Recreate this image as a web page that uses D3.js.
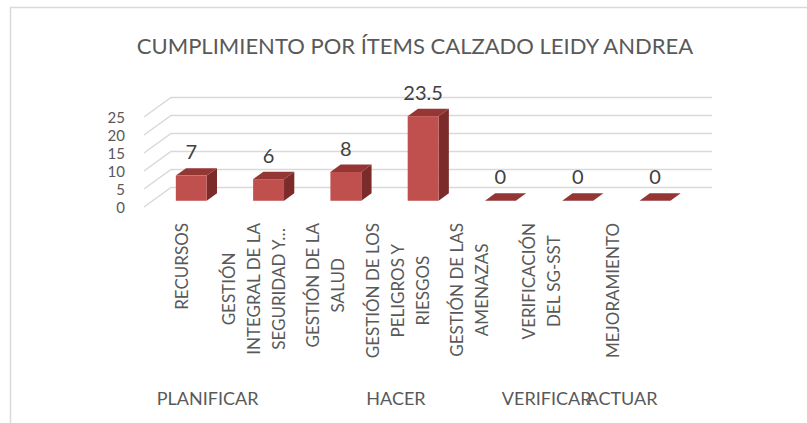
<!DOCTYPE html>
<html>
<head>
<meta charset="utf-8">
<script src="https://cdn.jsdelivr.net/npm/d3@7"></script>
<style>
  html, body { margin: 0; padding: 0; background: #fff; }
  text { font-family: Lato, "Open Sans", sans-serif; }
</style>
</head>
<body>
<div id="chart"></div>
<script>
// cumplimiento por items - 3D column look

const title = "CUMPLIMIENTO POR ÍTEMS CALZADO LEIDY ANDREA";
const items = [
  ["RECURSOS"],
  ["GESTIÓN", "INTEGRAL DE LA", "SEGURIDAD Y…"],
  ["GESTIÓN DE LA", "SALUD"],
  ["GESTIÓN DE LOS", "PELIGROS Y", "RIESGOS"],
  ["GESTIÓN DE LAS", "AMENAZAS"],
  ["VERIFICACIÓN", "DEL SG-SST"],
  ["MEJORAMIENTO"]
];
const values = [7, 6, 8, 23.5, 0, 0, 0];
const groups = ["PLANIFICAR", "HACER", "VERIFICAR", "ACTUAR"];
const groupSpans = [[0, 1], [2, 4], [5, 5], [6, 6]];
const yTicks = [0, 5, 10, 15, 20, 25];

const W = 807, H = 423;
const depthX = 27, depthY = -19.5;   // floor depth (oblique)
const barD0 = 0.32, barD1 = 0.7;     // bar depth, front/back as share of floor

const svg = d3.select("#chart").append("svg")
  .attr("width", W).attr("height", H);

// chart frame (runs off the window on right / bottom)
svg.append("rect")
  .attr("x", 10.5).attr("y", 7.5)
  .attr("width", W + 20).attr("height", H + 20)
  .attr("fill", "#fff")
  .attr("stroke", "#d9d9d9").attr("stroke-width", 1.5);

svg.append("text")
  .attr("x", 415).attr("y", 54)
  .attr("text-anchor", "middle")
  .attr("font-size", "22px")
  .attr("fill", "#595959")
  .text(title);

const idx = items.map((d, i) => i);

const x = d3.scaleBand().domain(idx).range([144, 685])
  .paddingInner(0.6).paddingOuter(0.3);
const y = d3.scaleLinear().domain([0, 25]).range([207, 117]);

// gridlines: side wall diagonal + back wall
svg.append("g").selectAll("path")
  .data(yTicks)
  .enter().append("path")
    .attr("d", t => `M144,${y(t)} L${144 + depthX},${y(t) + depthY} L${685 + depthX},${y(t) + depthY}`)
    .attr("fill", "none")
    .attr("stroke", "#d9d9d9")
    .attr("stroke-width", 1.5);

// y tick labels
svg.append("g").selectAll("text")
  .data(yTicks)
  .enter().append("text")
    .attr("x", 125)
    .attr("y", t => y(t) + 6)
    .attr("text-anchor", "end")
    .attr("font-size", "15px")
    .attr("fill", "#595959")
    .text(t => t);

// bars
const ox0 = depthX * barD0, oy0 = depthY * barD0;
const ox1 = depthX * barD1, oy1 = depthY * barD1;
const bw = x.bandwidth();

const bars = svg.append("g").selectAll("g")
  .data(idx)
  .enter().append("g");

bars.append("path")   // side
  .attr("d", i => {
    const r = x(i) + bw, t = y(values[i]), b = y(0);
    return `M${r + ox0},${t + oy0} L${r + ox1},${t + oy1} L${r + ox1},${b + oy1} L${r + ox0},${b + oy0}Z`;
  })
  .attr("fill", "#7b2c2a");

bars.append("path")   // top
  .attr("d", i => {
    const l = x(i), t = y(values[i]);
    return `M${l + ox0},${t + oy0} L${l + bw + ox0},${t + oy0} L${l + bw + ox1},${t + oy1} L${l + ox1},${t + oy1}Z`;
  })
  .attr("fill", "#943634");

bars.append("rect")   // front
  .attr("x", i => x(i) + ox0)
  .attr("y", i => y(values[i]) + oy0)
  .attr("width", bw)
  .attr("height", i => y(0) - y(values[i]))
  .attr("fill", "#c0504d");

// value labels
svg.append("g").selectAll("text")
  .data(idx)
  .enter().append("text")
    .attr("x", i => x(i) + bw / 2 + ox0)
    .attr("y", i => y(values[i]) + oy1 - 9)
    .attr("text-anchor", "middle")
    .attr("font-size", "20px")
    .attr("fill", "#404040")
    .text(i => values[i]);

// category labels, rotated, lines centred inside a top aligned block
const labX = d3.scalePoint().domain(idx).range([182, 613]);
const catFs = 17, lineGap = 25, labTop = 223;

idx.forEach(i => {
  const lines = items[i];
  const g = svg.append("g");
  const txt = g.selectAll("text")
    .data(lines)
    .enter().append("text")
      .attr("font-size", catFs + "px")
      .attr("fill", "#595959")
      .attr("text-anchor", "middle")
      .text(d => d);
  const maxW = d3.max(txt.nodes(), n => n.getComputedTextLength());
  txt.attr("transform", (d, k) => {
    const cx = labX(i) + (k - (lines.length - 1) / 2) * lineGap + catFs * 0.36;
    const cy = labTop + maxW / 2;
    return `translate(${cx},${cy}) rotate(-90)`;
  });
});

// group labels
const gx = d3.scaleLinear().domain([0, 6]).range([170, 622]);
svg.append("g").selectAll("text")
  .data(groups)
  .enter().append("text")
    .attr("x", (d, k) => gx((groupSpans[k][0] + groupSpans[k][1]) / 2))
    .attr("y", 405)
    .attr("text-anchor", "middle")
    .attr("font-size", "18px")
    .attr("fill", "#595959")
    .text(d => d);
</script>
</body>
</html>
